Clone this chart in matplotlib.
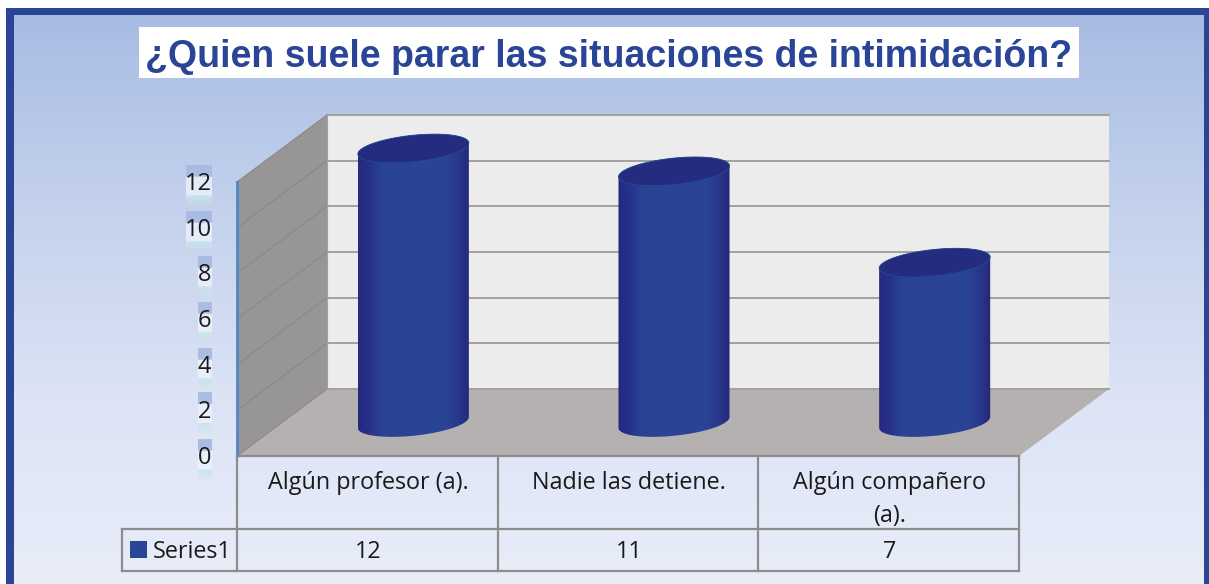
import numpy as np
import matplotlib
matplotlib.use("Agg")
import matplotlib.pyplot as plt
from matplotlib.colors import LinearSegmentedColormap, to_rgb
from matplotlib.patches import Polygon, Rectangle

# datos
categorias = ["Algún profesor (a).", "Nadie las detiene.", "Algún compañero\n(a)."]
valores = [12, 11, 7]
serie = "Series1"
ticks_y = [0, 2, 4, 6, 8, 10, 12]
titulo = "¿Quien suele parar las situaciones de intimidación?"

W, H = 1209, 584
AZUL = "#2a4596"
GRIS = "#8f8d8c"
TEXTO = "#1a1a1a"
FUENTE = "Open Sans"

# plano frontal del grafico en pixeles
x0, x1 = 237, 1019
y0, y12 = 456, 182
prof_x, prof_y = 90, 67   # desplazamiento de la profundidad 3D

fig = plt.figure(figsize=(W / 100, H / 100), dpi=100, facecolor="white")

# fondo con degradado y marco
bg = fig.add_axes([0, 0, 1, 1], zorder=0)
bg.set_xlim(0, W)
bg.set_ylim(H, 0)
bg.axis("off")
cmap_fondo = LinearSegmentedColormap.from_list("fondo", ["#a7bbe3", "#c3d1ec", "#dbe3f5", "#e9edf9"])
bg.imshow(np.linspace(0, 1, 256)[:, None], extent=[10, 1206, H, 12], cmap=cmap_fondo, aspect="auto", zorder=0)
bg.set_xlim(0, W)
bg.set_ylim(H, 0)
bg.add_patch(Rectangle((6, 8), 8, H, color=AZUL, lw=0, zorder=1))
bg.add_patch(Rectangle((6, 8), 1198, 7, color=AZUL, lw=0, zorder=1))
bg.add_patch(Rectangle((1204, 8), 5, H, color=AZUL, lw=0, zorder=1))

# titulo
bg.add_patch(Rectangle((139, 27), 940, 51, color="white", lw=0, zorder=2))
bg.text(609, 57, titulo, ha="center", va="center", color=AZUL, fontsize=27,
        fontweight="bold", family="Liberation Sans", zorder=3)

# ejes: x = categorias, y = valores
ax = fig.add_axes([x0 / W, 1 - y0 / H, (x1 - x0) / W, (y0 - y12) / H], zorder=1)
ax.set_xlim(0, len(valores))
ax.set_ylim(0, 12)
ax.axis("off")
ax.patch.set_alpha(0)

px_x = len(valores) / (x1 - x0)   # datos por pixel
px_y = 12 / (y0 - y12)
dx, dy = prof_x * px_x, prof_y * px_y
n = len(valores)


def poly(puntos, **kw):
    p = Polygon(puntos, closed=True, clip_on=False, **kw)
    ax.add_patch(p)
    return p


# paredes y suelo
poly([(dx, dy), (n + dx, dy), (n + dx, 12 + dy), (dx, 12 + dy)], fc="#ececec", ec="none", zorder=1)
poly([(0, 0), (dx, dy), (dx, 12 + dy), (0, 12)], fc="#979695", ec="none", zorder=1)
poly([(0, 0), (n, 0), (n + dx, dy), (dx, dy)], fc="#b5b1b0", ec="none", zorder=1)

for t in ticks_y:
    ax.plot([dx, n + dx], [t + dy, t + dy], color="#a3a19f", lw=1.4, clip_on=False, zorder=2)
    ax.plot([0, dx], [t, t + dy], color="#8a8887", lw=0.8, clip_on=False, zorder=2)
ax.plot([dx, dx], [dy, 12 + dy], color="#a3a19f", lw=0.8, clip_on=False, zorder=2)
ax.plot([0, 0], [0, 12], color="#4f86c6", lw=2, clip_on=False, zorder=3)

# cilindros
cmap_cil = LinearSegmentedColormap.from_list(
    "cil", [(0, "#25297e"), (0.09, "#27308a"), (0.2, "#2a4294"), (0.78, "#2a4596"),
            (0.9, "#28388c"), (1, "#242878")])
a, b, phi = 55.8, 13.2, np.radians(6)
t0 = np.arctan2(-b * np.sin(phi), a * np.cos(phi))


def elipse(t):
    ex = a * np.cos(phi) * np.cos(t) - b * np.sin(phi) * np.sin(t)
    ey = a * np.sin(phi) * np.cos(t) + b * np.cos(phi) * np.sin(t)
    return ex * px_x, ey * px_y


for i, v in enumerate(valores):
    cx, cy = i + 0.5 + dx / 2 + 1 * px_x, dy / 2
    ex, ey = elipse(np.linspace(t0 + np.pi, t0 + 2 * np.pi, 60))
    fx, fy = elipse(np.linspace(t0, t0 + np.pi, 60))
    contorno = np.r_[np.c_[cx + ex, cy + ey], np.c_[cx + fx, cy + v + fy]]
    clip = poly(contorno, fc="none", ec="none", zorder=3)
    im = ax.imshow(np.linspace(0, 1, 128)[None, :], cmap=cmap_cil, aspect="auto", zorder=4,
                   extent=[cx - a * px_x, cx + a * px_x, cy - 20 * px_y, cy + v + 20 * px_y])
    im.set_clip_box(fig.bbox)
    im.set_clip_path(clip)
    tx, ty = elipse(np.linspace(0, 2 * np.pi, 120))
    poly(np.c_[cx + tx, cy + v + ty], fc="#252c80", ec="#1f4f8c", lw=0.6, zorder=5)
ax.set_xlim(0, n)
ax.set_ylim(0, 12)

# etiquetas del eje y con su halo
azul_h, blanco_h, cian_h = to_rgb("#a9bbe3"), to_rgb("#eef2fb"), to_rgb("#c6e6ea")
rel = np.arange(-17, 26)
halo = np.zeros((len(rel), 1, 4))
for k, r in enumerate(rel):
    if r < -5:
        c, al = azul_h, 0.95
    elif r < 14:
        c, al = blanco_h, 0.8
    else:
        c, al = cian_h, max(0.0, 0.9 * (1 - (r - 14) / 11))
    halo[k, 0] = (*c, al)

for t in ticks_y:
    etiqueta = str(t)
    ancho = 26 if len(etiqueta) == 2 else 14
    ax.imshow(halo, aspect="auto", zorder=1, clip_on=False, interpolation="bilinear",
              extent=[-25 * px_x - ancho * px_x, -25 * px_x,
                      t - 25 * px_y, t + 17 * px_y])
    ax.text(-25.5 * px_x, t - 2 * px_y, etiqueta, ha="right", va="center", fontsize=17,
            family=FUENTE, color=TEXTO, zorder=6, clip_on=False)
ax.set_xlim(0, n)
ax.set_ylim(0, 12)

# tabla de datos debajo del eje
fila1 = -(529 - y0) * px_y
fila2 = -(571 - y0) * px_y
izq = -(x0 - 122) * px_x
linea = dict(color=GRIS, lw=1.6, clip_on=False, zorder=3, solid_capstyle="projecting")
ax.plot([0, n], [0, 0], **linea)
ax.plot([izq, n], [fila1, fila1], **linea)
ax.plot([izq, n], [fila2, fila2], **linea)
ax.plot([izq, izq], [fila1, fila2], **linea)
for i in range(n + 1):
    ax.plot([i, i], [0, fila2], **linea)

centro_f2 = (fila1 + fila2) / 2 - 1.5 * px_y
for i, (c, v) in enumerate(zip(categorias, valores)):
    ax.text(i + 0.5 + 1 * px_x, -(471 - y0) * px_y, c, ha="center", va="top", fontsize=16.8,
            family=FUENTE, color=TEXTO, linespacing=1.5, clip_on=False)
    ax.text(i + 0.5 + 1 * px_x, centro_f2, str(v), ha="center", va="center", fontsize=16.8,
            family=FUENTE, color=TEXTO, clip_on=False)

ax.add_patch(Rectangle((izq + 8 * px_x, fila2 + 13 * px_y), 17 * px_x, 17 * px_y,
                       fc=AZUL, ec="none", clip_on=False, zorder=4))
ax.text(izq + 31 * px_x, centro_f2, serie, ha="left", va="center", fontsize=16.8,
        family=FUENTE, color=TEXTO, clip_on=False)

fig.savefig("out.png", dpi=100, facecolor="white")
